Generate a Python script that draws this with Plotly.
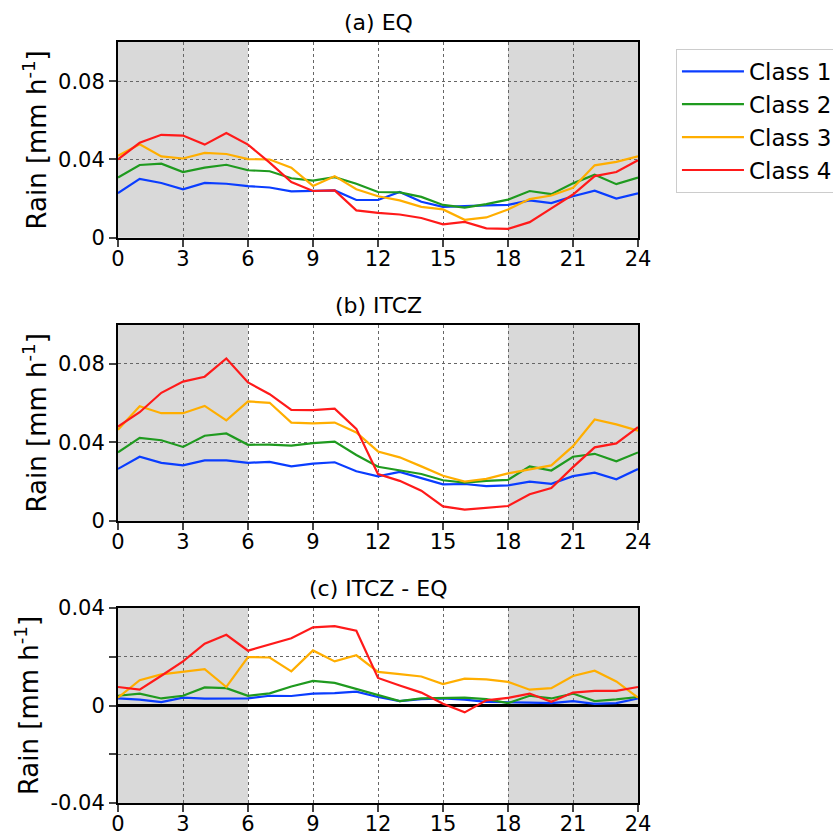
import plotly.graph_objects as go

hours = list(range(25))
class_names = ["Class 1", "Class 2", "Class 3", "Class 4"]
colors = ["#0a3dff", "#1f9a1f", "#ffae00", "#ff1a1a"]
panel_titles = ["(a) EQ", "(b) ITCZ", "(c) ITCZ - EQ"]
xtick_vals = [0, 3, 6, 9, 12, 15, 18, 21, 24]

# (a) EQ
eq_c1 = [0.0228, 0.0301, 0.0280, 0.0248, 0.0280, 0.0276, 0.0264, 0.0257, 0.0237, 0.0241, 0.0242, 0.0193, 0.0193,
         0.0234, 0.0184, 0.0158, 0.0163, 0.0166, 0.0168, 0.0191, 0.0177, 0.0212, 0.0241, 0.0200, 0.0227]
eq_c2 = [0.0308, 0.0372, 0.0379, 0.0336, 0.0358, 0.0373, 0.0345, 0.0340, 0.0304, 0.0292, 0.0310, 0.0276, 0.0234,
         0.0232, 0.0209, 0.0168, 0.0154, 0.0172, 0.0195, 0.0239, 0.0223, 0.0278, 0.0322, 0.0274, 0.0308]
eq_c3 = [0.0419, 0.0478, 0.0416, 0.0405, 0.0434, 0.0428, 0.0402, 0.0400, 0.0358, 0.0265, 0.0315, 0.0248, 0.0212,
         0.0191, 0.0158, 0.0145, 0.0092, 0.0104, 0.0145, 0.0198, 0.0216, 0.0255, 0.0370, 0.0388, 0.0416]
eq_c4 = [0.0400, 0.0485, 0.0526, 0.0522, 0.0476, 0.0535, 0.0476, 0.0384, 0.0285, 0.0239, 0.0242, 0.0140, 0.0127,
         0.0119, 0.0101, 0.0069, 0.0081, 0.0048, 0.0046, 0.0080, 0.0150, 0.0221, 0.0315, 0.0336, 0.0396]

# (b) ITCZ
itcz_c1 = [0.0265, 0.0327, 0.0296, 0.0283, 0.0308, 0.0308, 0.0296, 0.0301, 0.0278, 0.0292, 0.0299, 0.0253, 0.0227,
           0.0250, 0.0218, 0.0186, 0.0188, 0.0177, 0.0181, 0.0200, 0.0189, 0.0228, 0.0246, 0.0212, 0.0264]
itcz_c2 = [0.0349, 0.0423, 0.0411, 0.0377, 0.0434, 0.0446, 0.0388, 0.0389, 0.0384, 0.0396, 0.0404, 0.0336, 0.0276,
           0.0257, 0.0239, 0.0207, 0.0195, 0.0204, 0.0209, 0.0278, 0.0257, 0.0327, 0.0342, 0.0304, 0.0349]
itcz_c3 = [0.0465, 0.0584, 0.0549, 0.0549, 0.0586, 0.0512, 0.0609, 0.0602, 0.0501, 0.0497, 0.0501, 0.0451, 0.0354,
           0.0324, 0.0278, 0.0230, 0.0200, 0.0214, 0.0242, 0.0264, 0.0283, 0.0381, 0.0517, 0.0492, 0.0460]
itcz_c4 = [0.0481, 0.0554, 0.0653, 0.0710, 0.0735, 0.0828, 0.0706, 0.0646, 0.0566, 0.0565, 0.0572, 0.0469, 0.0239,
           0.0204, 0.0154, 0.0074, 0.0057, 0.0067, 0.0076, 0.0136, 0.0168, 0.0274, 0.0375, 0.0395, 0.0478]

# (c) ITCZ - EQ
diff_c1 = [0.0029, 0.0024, 0.0014, 0.0032, 0.0028, 0.0029, 0.0029, 0.0040, 0.0039, 0.0049, 0.0051, 0.0057, 0.0035,
           0.0018, 0.0026, 0.0029, 0.0024, 0.0015, 0.0012, 0.0012, 0.0010, 0.0018, 0.0007, 0.0010, 0.0029]
diff_c2 = [0.0040, 0.0049, 0.0029, 0.0040, 0.0074, 0.0071, 0.0040, 0.0050, 0.0078, 0.0101, 0.0093, 0.0068, 0.0043,
           0.0018, 0.0029, 0.0032, 0.0032, 0.0026, 0.0010, 0.0040, 0.0029, 0.0049, 0.0018, 0.0025, 0.0035]
diff_c3 = [0.0032, 0.0104, 0.0128, 0.0140, 0.0149, 0.0076, 0.0199, 0.0197, 0.0140, 0.0226, 0.0181, 0.0206, 0.0138,
           0.0129, 0.0119, 0.0088, 0.0110, 0.0107, 0.0097, 0.0065, 0.0071, 0.0121, 0.0143, 0.0099, 0.0032]
diff_c4 = [0.0076, 0.0065, 0.0122, 0.0181, 0.0254, 0.0290, 0.0225, 0.0251, 0.0276, 0.0321, 0.0326, 0.0307, 0.0113,
           0.0082, 0.0053, 0.0007, -0.0028, 0.0021, 0.0031, 0.0049, 0.0015, 0.0053, 0.0060, 0.0060, 0.0076]

panels = [
    [eq_c1, eq_c2, eq_c3, eq_c4],
    [itcz_c1, itcz_c2, itcz_c3, itcz_c4],
    [diff_c1, diff_c2, diff_c3, diff_c4],
]
night_spans = [(0, 6), (18, 24)]

FONT = "DejaVu Sans"
fig = go.Figure()

for p, series in enumerate(panels):
    ax = "" if p == 0 else str(p + 1)
    for i, vals in enumerate(series):
        fig.add_trace(go.Scatter(
            x=hours, y=vals, mode="lines", name=class_names[i],
            line=dict(color=colors[i], width=2.2),
            xaxis="x" + ax, yaxis="y" + ax,
            showlegend=(p == 0),
        ))
    for (a, b) in night_spans:
        fig.add_shape(type="rect", xref="x" + ax, yref=("y" + ax + " domain"),
                      x0=a, x1=b, y0=0, y1=1, fillcolor="#d9d9d9",
                      line=dict(width=0), layer="below")

domains = [[0.7427, 1.0], [0.3707, 0.6285], [0.0, 0.2562]]
common_x = dict(range=[0, 24], tickvals=xtick_vals, ticks="outside", ticklen=7, tickwidth=1.5,
                showline=True, linecolor="black", linewidth=2, mirror=True, automargin=False,
                showgrid=True, gridcolor="#666666", griddash="dot", gridwidth=1,
                zeroline=False, ticklabelstandoff=-6,
                tickfont=dict(size=21, color="black", family=FONT))
common_y = dict(ticks="outside", ticklen=7, tickwidth=1.5,
                showline=True, linecolor="black", linewidth=2, mirror=True, automargin=False,
                showgrid=True, gridcolor="#666666", griddash="dot", gridwidth=1,
                tickfont=dict(size=21, color="black", family=FONT),
                title=dict(text="Rain [mm h<sup>-1</sup>]", font=dict(size=26, color="black", family=FONT),
                           standoff=4))

layout = {}
for p in range(3):
    ax = "" if p == 0 else str(p + 1)
    xa = dict(common_x)
    xa["domain"] = [0, 1]
    xa["anchor"] = "y" + ax
    ya = dict(common_y)
    ya["domain"] = domains[p]
    ya["anchor"] = "x" + ax
    if p < 2:
        ya.update(range=[0, 0.1], tickvals=[0, 0.04, 0.08], ticktext=["0", "0.04", "0.08"], zeroline=False)
    else:
        ya.update(range=[-0.04, 0.04], tickvals=[-0.04, -0.02, 0, 0.02, 0.04],
                  ticktext=["-0.04", "", "0", "", "0.04"],
                  zeroline=True, zerolinecolor="black", zerolinewidth=3)
    layout["xaxis" + ax] = xa
    layout["yaxis" + ax] = ya
fig.update_layout(**layout)

for p in range(3):
    fig.add_annotation(text=panel_titles[p], xref="paper", yref="paper", x=0.5, y=domains[p][1],
                       xanchor="center", yanchor="bottom", yshift=5, showarrow=False,
                       font=dict(size=22, color="black", family=FONT))

fig.update_layout(
    width=833, height=835,
    margin=dict(l=118, r=195, t=42, b=32, autoexpand=False),
    plot_bgcolor="white", paper_bgcolor="white",
    font=dict(family=FONT, color="black"),
    legend=dict(x=1.073, y=0.991, xanchor="left", yanchor="top", itemwidth=62,
                font=dict(size=23, color="black", family=FONT),
                bordercolor="#cccccc", borderwidth=1, bgcolor="white"),
)

fig.write_html("out.html")
